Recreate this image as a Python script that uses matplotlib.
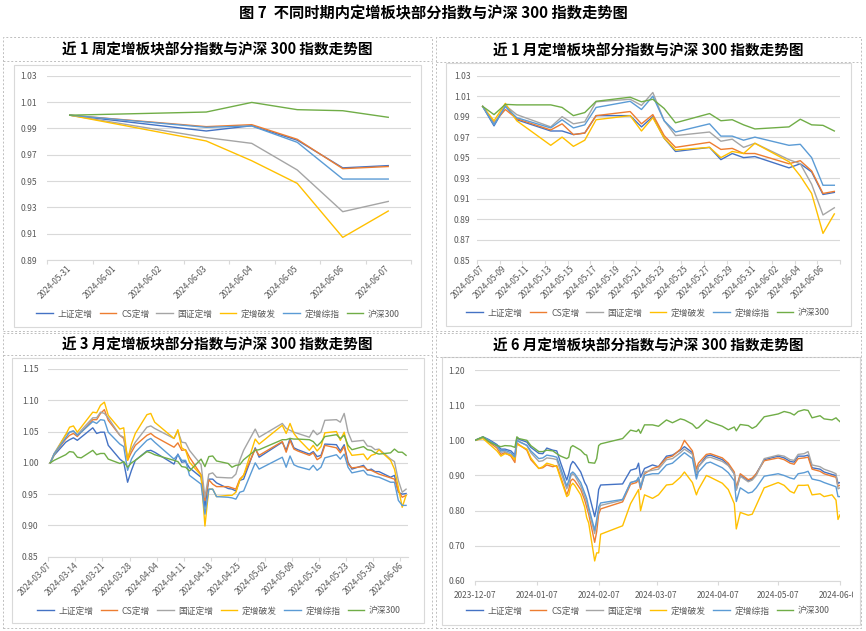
"""Recreate figure 7: private placement indices vs CSI 300 over four windows."""
import matplotlib
matplotlib.use("Agg")
import matplotlib.pyplot as plt
from matplotlib.patches import Rectangle
from matplotlib.lines import Line2D
from matplotlib.ticker import FormatStrFormatter
from matplotlib.transforms import Bbox, TransformedBbox
import pandas as pd

plt.rcParams["font.family"] = ["Noto Sans CJK SC", "DejaVu Sans"]

W, H = 866, 631
GRID = "#D9D9D9"
TEXT = "#595959"
DASH = "#BFBFBF"

NAMES = ["上证定增", "CS定增", "国证定增", "定增破发", "定增综指", "沪深300"]
COLORS = ["#4472C4", "#ED7D31", "#A5A5A5", "#FFC000", "#5B9BD5", "#70AD47"]

# --- 近1周 ---
week_dates = ["2024-05-31", "2024-06-03", "2024-06-04", "2024-06-05",
              "2024-06-06", "2024-06-07"]
week_sz = [1.000, 0.988, 0.992, 0.981, 0.960, 0.9617]
week_cs = [1.000, 0.9913, 0.9928, 0.9817, 0.9594, 0.961]
week_gz = [1.000, 0.983, 0.9786, 0.9584, 0.9267, 0.9345]
week_pf = [1.000, 0.9804, 0.9654, 0.9482, 0.9072, 0.9272]
week_zz = [1.000, 0.9908, 0.9918, 0.9794, 0.9515, 0.9515]
week_hs = [1.000, 1.0024, 1.0097, 1.0042, 1.0034, 0.9984]
week_yticks = [0.89, 0.91, 0.93, 0.95, 0.97, 0.99, 1.01, 1.03]

# --- 近1月 ---
month_dates = ["2024-05-07", "2024-05-08", "2024-05-09", "2024-05-10",
               "2024-05-13", "2024-05-14", "2024-05-15", "2024-05-16",
               "2024-05-17", "2024-05-20", "2024-05-21", "2024-05-22",
               "2024-05-23", "2024-05-24", "2024-05-27", "2024-05-28",
               "2024-05-29", "2024-05-30", "2024-05-31", "2024-06-03",
               "2024-06-04", "2024-06-05", "2024-06-06", "2024-06-07"]
month_sz = [1.000, 0.981, 1.0005, 0.987, 0.976, 0.976, 0.9725, 0.974, 0.991,
            0.991, 0.980, 0.990, 0.969, 0.956, 0.960, 0.948, 0.954, 0.950,
            0.951, 0.940, 0.944, 0.936, 0.914, 0.916]
month_cs = [1.000, 0.984, 0.997, 0.988, 0.977, 0.983, 0.9725, 0.974, 0.991,
            0.995, 0.983, 0.992, 0.9715, 0.960, 0.965, 0.958, 0.959, 0.954,
            0.954, 0.944, 0.947, 0.937, 0.915, 0.917]
month_gz = [1.000, 0.983, 1.001, 0.992, 0.980, 0.990, 0.983, 0.985, 1.0045,
            1.007, 1.001, 1.0136, 0.986, 0.9715, 0.975, 0.966, 0.968, 0.960,
            0.964, 0.948, 0.944, 0.924, 0.894, 0.901]
month_pf = [1.000, 0.986, 1.003, 0.986, 0.962, 0.970, 0.961, 0.967, 0.987,
            0.991, 0.976, 0.989, 0.969, 0.9575, 0.960, 0.950, 0.956, 0.954,
            0.964, 0.946, 0.932, 0.915, 0.876, 0.895]
month_zz = [1.000, 0.982, 1.000, 0.989, 0.979, 0.987, 0.979, 0.982, 0.999,
            1.005, 0.997, 1.010, 0.986, 0.975, 0.983, 0.971, 0.971, 0.967,
            0.970, 0.962, 0.963, 0.950, 0.923, 0.923]
month_hs = [1.000, 0.992, 1.002, 1.0015, 1.0015, 0.999, 0.991, 0.994, 1.005,
            1.009, 1.0045, 1.007, 0.998, 0.984, 0.993, 0.986, 0.987, 0.982,
            0.978, 0.980, 0.9875, 0.982, 0.9815, 0.976]
month_yticks = [0.85, 0.87, 0.89, 0.91, 0.93, 0.95, 0.97, 0.99, 1.01, 1.03]

# --- 近3月 ---
quarter_dates = [
    "2024-03-07", "2024-03-08", "2024-03-11", "2024-03-12", "2024-03-13",
    "2024-03-14", "2024-03-15", "2024-03-18", "2024-03-19", "2024-03-20",
    "2024-03-21", "2024-03-22", "2024-03-25", "2024-03-26", "2024-03-27",
    "2024-03-28", "2024-03-29", "2024-04-01", "2024-04-02", "2024-04-03",
    "2024-04-08", "2024-04-09", "2024-04-10", "2024-04-11", "2024-04-12",
    "2024-04-15", "2024-04-16", "2024-04-17", "2024-04-18", "2024-04-19",
    "2024-04-22", "2024-04-23", "2024-04-24", "2024-04-25", "2024-04-26",
    "2024-04-29", "2024-04-30", "2024-05-06", "2024-05-07", "2024-05-08",
    "2024-05-09", "2024-05-10", "2024-05-13", "2024-05-14", "2024-05-15",
    "2024-05-16", "2024-05-17", "2024-05-20", "2024-05-21", "2024-05-22",
    "2024-05-23", "2024-05-24", "2024-05-27", "2024-05-28", "2024-05-29",
    "2024-05-30", "2024-05-31", "2024-06-03", "2024-06-04", "2024-06-05",
    "2024-06-06", "2024-06-07"]
quarter_sz = [
    1.000, 1.012, 1.033, 1.037, 1.040, 1.036, 1.041, 1.056, 1.047, 1.049,
    1.049, 1.028, 1.006, 1.001, 0.969, 0.988, 1.004, 1.019, 1.020, 1.017,
    0.998, 1.014, 1.001, 1.002, 0.992, 0.977, 0.929, 0.974, 0.974, 0.968,
    0.959, 0.958, 0.955, 0.972, 0.974, 1.024, 1.009, 1.033, 1.020, 1.039,
    1.024, 1.021, 1.014, 1.018, 1.010, 1.012, 1.030, 1.029, 1.019, 1.029,
    1.001, 0.990, 0.996, 0.988, 0.990, 0.986, 0.986, 0.977, 0.980, 0.953,
    0.950, 0.951]
quarter_cs = [
    1.000, 1.014, 1.038, 1.044, 1.047, 1.042, 1.049, 1.069, 1.069, 1.079,
    1.085, 1.068, 1.044, 1.039, 1.004, 1.017, 1.028, 1.044, 1.047, 1.042,
    1.025, 1.032, 1.020, 1.021, 1.009, 0.981, 0.940, 0.973, 0.966, 0.962,
    0.962, 0.960, 0.958, 0.974, 0.980, 1.022, 1.012, 1.034, 1.017, 1.036,
    1.022, 1.019, 1.012, 1.016, 1.005, 1.009, 1.028, 1.024, 1.016, 1.026,
    0.998, 0.992, 0.994, 0.989, 0.988, 0.985, 0.982, 0.976, 0.974, 0.955,
    0.945, 0.948]
quarter_gz = [
    1.000, 1.015, 1.045, 1.049, 1.051, 1.045, 1.052, 1.072, 1.072, 1.081,
    1.079, 1.072, 1.044, 1.041, 1.009, 1.022, 1.033, 1.057, 1.059, 1.055,
    1.039, 1.051, 1.033, 1.032, 1.020, 0.997, 0.945, 0.982, 0.984, 0.977,
    0.976, 0.976, 0.982, 1.004, 1.020, 1.054, 1.041, 1.063, 1.055, 1.052,
    1.049, 1.047, 1.041, 1.052, 1.045, 1.049, 1.068, 1.069, 1.065, 1.079,
    1.049, 1.034, 1.036, 1.027, 1.026, 1.021, 1.022, 1.006, 1.002, 0.972,
    0.953, 0.958]
quarter_pf = [
    1.000, 1.013, 1.045, 1.057, 1.059, 1.049, 1.057, 1.081, 1.080, 1.092,
    1.097, 1.076, 1.054, 1.056, 1.004, 1.030, 1.047, 1.077, 1.079, 1.065,
    1.039, 1.053, 1.024, 1.020, 1.001, 0.980, 0.899, 0.958, 0.958, 0.946,
    0.948, 0.948, 0.953, 0.972, 0.980, 1.038, 1.030, 1.060, 1.047, 1.063,
    1.047, 1.039, 1.020, 1.028, 1.019, 1.026, 1.048, 1.050, 1.036, 1.049,
    1.022, 1.012, 1.014, 1.005, 1.012, 1.014, 1.021, 1.004, 0.990, 0.961,
    0.929, 0.948]
quarter_zz = [
    1.000, 1.014, 1.040, 1.049, 1.051, 1.044, 1.049, 1.066, 1.063, 1.069,
    1.068, 1.049, 1.030, 1.026, 0.988, 1.006, 1.017, 1.036, 1.039, 1.033,
    1.006, 1.013, 1.004, 1.004, 0.980, 0.966, 0.918, 0.958, 0.958, 0.946,
    0.945, 0.944, 0.942, 0.953, 0.955, 1.000, 0.990, 1.009, 0.993, 1.011,
    0.997, 0.994, 0.989, 0.996, 0.988, 0.993, 1.008, 1.013, 1.006, 1.014,
    0.993, 0.984, 0.988, 0.981, 0.980, 0.978, 0.977, 0.969, 0.969, 0.940,
    0.932, 0.932]
quarter_hs = [
    1.000, 1.004, 1.013, 1.018, 1.017, 1.009, 1.008, 1.020, 1.013, 1.015,
    1.015, 1.006, 0.999, 1.002, 0.993, 1.000, 1.004, 1.018, 1.016, 1.013,
    1.004, 1.002, 0.994, 0.993, 0.987, 1.006, 0.994, 1.010, 1.011, 1.003,
    0.999, 0.993, 0.996, 0.997, 1.005, 1.020, 1.021, 1.037, 1.037, 1.039,
    1.038, 1.038, 1.037, 1.034, 1.027, 1.033, 1.042, 1.045, 1.039, 1.044,
    1.028, 1.021, 1.026, 1.021, 1.020, 1.016, 1.014, 1.016, 1.022, 1.017,
    1.017, 1.012]
quarter_yticks = [0.85, 0.90, 0.95, 1.00, 1.05, 1.10, 1.15]

# --- 近6月 ---
half_dates = [
    "2023-12-07", "2023-12-11", "2023-12-14", "2023-12-18", "2023-12-20",
    "2023-12-22", "2023-12-25", "2023-12-27", "2023-12-28", "2023-12-29",
    "2024-01-02", "2024-01-04", "2024-01-08", "2024-01-10", "2024-01-12",
    "2024-01-15", "2024-01-17", "2024-01-19", "2024-01-22", "2024-01-23",
    "2024-01-24", "2024-01-25", "2024-01-26", "2024-01-29", "2024-01-31",
    "2024-02-01", "2024-02-02", "2024-02-05", "2024-02-06", "2024-02-07",
    "2024-02-08", "2024-02-19", "2024-02-23", "2024-02-26", "2024-02-27",
    "2024-02-28", "2024-03-01", "2024-03-05", "2024-03-08", "2024-03-12",
    "2024-03-15", "2024-03-19", "2024-03-21", "2024-03-25", "2024-03-27",
    "2024-03-28", "2024-04-01", "2024-04-03", "2024-04-09", "2024-04-12",
    "2024-04-15", "2024-04-16", "2024-04-18", "2024-04-22", "2024-04-24",
    "2024-04-26", "2024-04-30", "2024-05-07", "2024-05-10", "2024-05-13",
    "2024-05-15", "2024-05-17", "2024-05-20", "2024-05-22", "2024-05-24",
    "2024-05-28", "2024-05-30", "2024-06-03", "2024-06-05", "2024-06-06",
    "2024-06-07"]
half_sz = [
    1.000, 1.010, 1.002, 0.988, 0.975, 0.975, 0.970, 0.958, 1.008, 1.003,
    0.995, 0.980, 0.963, 0.962, 0.978, 0.972, 0.970, 0.935, 0.887, 0.905,
    0.930, 0.940, 0.935, 0.910, 0.880, 0.870, 0.850, 0.783, 0.810, 0.860,
    0.873, 0.876, 0.915, 0.920, 0.935, 0.895, 0.920, 0.930, 0.925, 0.955,
    0.958, 0.972, 0.982, 0.965, 0.900, 0.925, 0.955, 0.958, 0.945, 0.930,
    0.905, 0.860, 0.900, 0.885, 0.890, 0.905, 0.945, 0.955, 0.950, 0.940,
    0.938, 0.955, 0.955, 0.958, 0.922, 0.918, 0.910, 0.903, 0.900, 0.878,
    0.880]
half_cs = [
    1.000, 1.008, 0.995, 0.978, 0.960, 0.965, 0.955, 0.937, 0.993, 0.988,
    0.972, 0.945, 0.920, 0.922, 0.930, 0.925, 0.928, 0.895, 0.845, 0.860,
    0.885, 0.890, 0.885, 0.860, 0.830, 0.810, 0.790, 0.710, 0.740, 0.790,
    0.805, 0.825, 0.875, 0.880, 0.890, 0.860, 0.905, 0.920, 0.925, 0.950,
    0.955, 0.975, 1.000, 0.970, 0.918, 0.935, 0.960, 0.962, 0.950, 0.935,
    0.910, 0.865, 0.905, 0.888, 0.893, 0.905, 0.942, 0.950, 0.945, 0.935,
    0.932, 0.948, 0.950, 0.952, 0.918, 0.912, 0.905, 0.898, 0.895, 0.870,
    0.872]
half_gz = [
    1.000, 1.009, 0.998, 0.983, 0.966, 0.968, 0.960, 0.950, 1.003, 0.998,
    0.985, 0.965, 0.940, 0.942, 0.950, 0.948, 0.945, 0.910, 0.862, 0.875,
    0.898, 0.905, 0.900, 0.870, 0.840, 0.825, 0.800, 0.735, 0.765, 0.800,
    0.815, 0.830, 0.880, 0.885, 0.893, 0.870, 0.910, 0.915, 0.918, 0.945,
    0.948, 0.965, 0.975, 0.960, 0.905, 0.925, 0.950, 0.952, 0.940, 0.928,
    0.905, 0.858, 0.898, 0.882, 0.887, 0.900, 0.948, 0.958, 0.955, 0.945,
    0.943, 0.960, 0.962, 0.968, 0.930, 0.925, 0.918, 0.910, 0.905, 0.862,
    0.865]
half_pf = [
    1.000, 1.005, 0.990, 0.970, 0.955, 0.962, 0.958, 0.945, 0.990, 0.986,
    0.975, 0.950, 0.920, 0.925, 0.935, 0.930, 0.925, 0.890, 0.840, 0.845,
    0.870, 0.878, 0.872, 0.845, 0.810, 0.780, 0.765, 0.657, 0.680, 0.680,
    0.733, 0.757, 0.820, 0.850, 0.860, 0.800, 0.845, 0.835, 0.845, 0.873,
    0.875, 0.895, 0.910, 0.880, 0.845, 0.860, 0.900, 0.895, 0.878, 0.860,
    0.820, 0.748, 0.795, 0.787, 0.790, 0.815, 0.865, 0.880, 0.872, 0.855,
    0.850, 0.872, 0.872, 0.873, 0.845, 0.848, 0.840, 0.845, 0.830, 0.775,
    0.788]
half_zz = [
    1.000, 1.009, 1.000, 0.985, 0.970, 0.972, 0.965, 0.953, 1.000, 0.996,
    0.986, 0.970, 0.948, 0.950, 0.958, 0.955, 0.952, 0.920, 0.870, 0.885,
    0.905, 0.910, 0.905, 0.880, 0.850, 0.835, 0.810, 0.745, 0.775, 0.810,
    0.822, 0.832, 0.880, 0.885, 0.895, 0.865, 0.900, 0.905, 0.905, 0.930,
    0.935, 0.955, 0.965, 0.948, 0.890, 0.910, 0.935, 0.938, 0.922, 0.908,
    0.885, 0.826, 0.865, 0.850, 0.853, 0.865, 0.898, 0.905, 0.900, 0.893,
    0.890, 0.905, 0.908, 0.912, 0.890, 0.885, 0.880, 0.872, 0.868, 0.840,
    0.840]
half_hs = [
    1.000, 1.010, 0.996, 0.985, 0.982, 0.985, 0.984, 0.980, 1.010, 1.005,
    1.000, 0.985, 0.968, 0.968, 0.972, 0.970, 0.962, 0.955, 0.948, 0.952,
    0.980, 0.985, 0.982, 0.972, 0.960, 0.958, 0.937, 0.935, 0.948, 0.985,
    0.990, 1.005, 1.029, 1.025, 1.031, 1.020, 1.044, 1.044, 1.040, 1.058,
    1.050, 1.061, 1.058, 1.046, 1.034, 1.036, 1.058, 1.052, 1.040, 1.030,
    1.038, 1.027, 1.045, 1.042, 1.034, 1.040, 1.067, 1.075, 1.082, 1.078,
    1.072, 1.082, 1.087, 1.085, 1.064, 1.070, 1.061, 1.058, 1.064, 1.058,
    1.053]
half_yticks = [0.60, 0.70, 0.80, 0.90, 1.00, 1.10, 1.20]


def fx(x):
    """Pixel x to figure fraction."""
    return x / W


def fy(y):
    """Pixel y (from top) to figure fraction."""
    return 1 - y / H


def box(fig, x0, y0, x1, y1, **kw):
    fig.add_artist(Rectangle((fx(x0), fy(y1)), fx(x1) - fx(x0),
                             fy(y0) - fy(y1), transform=fig.transFigure,
                             fill=False, **kw))


def frame(fig, outer, sep_y, inner, title):
    """Dashed panel frame with its title row and the solid chart box."""
    x0, y0, x1, y1 = outer
    dash = dict(edgecolor=DASH, linestyle=(0, (2, 2)), linewidth=0.7)
    box(fig, x0, y0, x1, y1, **dash)
    fig.add_artist(Line2D([fx(x0), fx(x1)], [fy(sep_y), fy(sep_y)],
                          transform=fig.transFigure, color=DASH,
                          linestyle=(0, (2, 2)), linewidth=0.7))
    fig.text(fx((x0 + x1) / 2), fy((y0 + sep_y) / 2 + 0.5), title,
             ha="center", va="center", fontsize=10.5, fontweight="bold")
    box(fig, *inner, edgecolor=GRID, linewidth=0.8)


def make_axes(fig, left, top, right, bottom):
    return fig.add_axes([fx(left), fy(bottom), fx(right) - fx(left),
                         fy(top) - fy(bottom)])


def style_axes(ax, yticks, ypad):
    ax.set_ylim(yticks[0], yticks[-1])
    ax.set_yticks(yticks)
    ax.yaxis.set_major_formatter(FormatStrFormatter("%.2f"))
    ax.grid(axis="y", color=GRID, linewidth=0.8)
    ax.set_axisbelow(True)
    for side in ["top", "left", "right"]:
        ax.spines[side].set_visible(False)
    ax.spines["bottom"].set_color(GRID)
    ax.spines["bottom"].set_linewidth(0.8)
    ax.set_facecolor("none")
    ax.tick_params(axis="y", length=0, pad=ypad, labelsize=6.2,
                   labelcolor=TEXT)


def draw_lines(ax, dates, series):
    x = pd.to_datetime(dates)
    for name, color, values in zip(NAMES, COLORS, series):
        ax.plot(x, values, color=color, linewidth=1.0, label=name)


def date_axis(ax, start, end, step):
    """Excel-like date axis: labels at day centres, ticks at day edges."""
    half = pd.Timedelta(hours=12)
    ax.set_xlim(pd.Timestamp(start) - half, pd.Timestamp(end) + half)
    labels = pd.date_range(start, end, freq=f"{step}D")
    edges = pd.date_range(start, pd.Timestamp(end) + pd.Timedelta(days=1),
                          freq=f"{step}D") - half
    ax.set_xticks(labels)
    ax.set_xticklabels([d.strftime("%Y-%m-%d") for d in labels])
    ax.set_xticks(edges, minor=True)
    ax.tick_params(axis="x", which="major", length=0, pad=5,
                   labelsize=6, labelcolor=TEXT)
    ax.tick_params(axis="x", which="minor", length=3, color=GRID, width=0.8)
    plt.setp(ax.get_xticklabels(), rotation=45, ha="right", va="center",
             rotation_mode="anchor")


def legend(fig, ax, cx, cy):
    fig.legend(handles=ax.get_lines(), labels=NAMES, loc="center",
               bbox_to_anchor=(fx(cx), fy(cy)), ncol=6, frameon=False,
               fontsize=6.3, labelcolor=TEXT, handlelength=1.9,
               handletextpad=0.55, columnspacing=0.8, borderpad=0.2)


fig = plt.figure(figsize=(8.66, 6.31), dpi=100)
fig.text(0.5, fy(13), "图 7  不同时期内定增板块部分指数与沪深 300 指数走势图",
         ha="center", va="center", fontsize=11, fontweight="bold")

# --- Panel 1: 近1周 ---
frame(fig, (3, 37, 432, 331), 61, (14, 65, 421, 327),
      "近 1 周定增板块部分指数与沪深 300 指数走势图")
ax1 = make_axes(fig, 47, 75.7, 411, 260)
draw_lines(ax1, week_dates,
           [week_sz, week_cs, week_gz, week_pf, week_zz, week_hs])
style_axes(ax1, week_yticks, 7)
date_axis(ax1, "2024-05-31", "2024-06-07", 1)
legend(fig, ax1, 218, 314)

# --- Panel 2: 近1月 ---
frame(fig, (436, 37, 861, 331), 62, (446, 63, 851, 326),
      "近 1 月定增板块部分指数与沪深 300 指数走势图")
ax2 = make_axes(fig, 477, 75.7, 840, 260)
draw_lines(ax2, month_dates,
           [month_sz, month_cs, month_gz, month_pf, month_zz, month_hs])
style_axes(ax2, month_yticks, 4.5)
date_axis(ax2, "2024-05-07", "2024-06-07", 2)
legend(fig, ax2, 648, 313)

# --- Panel 3: 近3月 ---
frame(fig, (3, 333, 432, 628), 355, (12, 358, 424, 623),
      "近 3 月定增板块部分指数与沪深 300 指数走势图")
ax3 = make_axes(fig, 48.3, 369, 408, 556.7)
draw_lines(ax3, quarter_dates,
           [quarter_sz, quarter_cs, quarter_gz, quarter_pf, quarter_zz,
            quarter_hs])
style_axes(ax3, quarter_yticks, 7)
date_axis(ax3, "2024-03-07", "2024-06-07", 7)
legend(fig, ax3, 219, 611)

# --- Panel 4: 近6月 ---
frame(fig, (436, 333, 861, 628), 357, (442, 357, 860, 625),
      "近 6 月定增板块部分指数与沪深 300 指数走势图")
ax4 = make_axes(fig, 475, 370, 840, 581)
draw_lines(ax4, half_dates,
           [half_sz, half_cs, half_gz, half_pf, half_zz, half_hs])
style_axes(ax4, half_yticks, 7)
ax4.set_xlim(pd.Timestamp("2023-12-07"), pd.Timestamp("2024-06-07"))
months = pd.date_range("2023-12-07", "2024-06-07",
                       freq=pd.DateOffset(months=1))
ax4.set_xticks(months)
ax4.set_xticklabels([d.strftime("%Y-%m-%d") for d in months])
ax4.tick_params(axis="x", length=3, color=GRID, width=0.8, pad=4,
                labelsize=6, labelcolor=TEXT)
# last date label is cut by the chart box, as in the source
clip = TransformedBbox(Bbox([[fx(443), 0], [fx(853), 1]]), fig.transFigure)
for lab in ax4.get_xticklabels():
    lab.set_clip_box(clip)
    lab.set_clip_on(True)
legend(fig, ax4, 648, 611)

fig.savefig("out.png", dpi=100)
plt.close(fig)
